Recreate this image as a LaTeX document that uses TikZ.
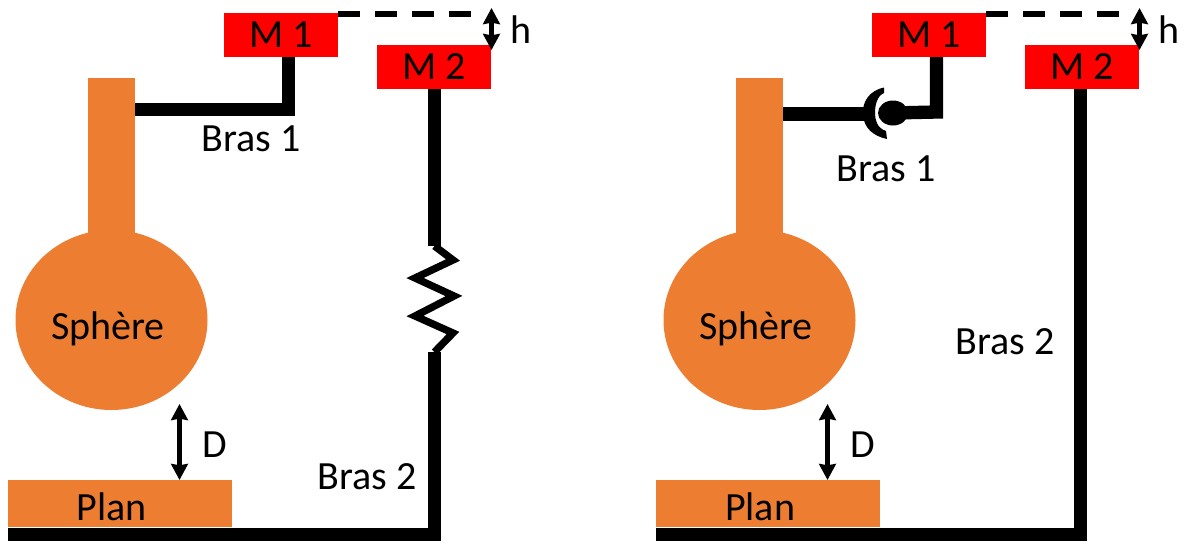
\documentclass[tikz,border=0pt]{standalone}
\usepackage{fontspec}
\setmainfont{Carlito}
\usetikzlibrary{arrows.meta,shapes.geometric}
\definecolor{orangeA}{HTML}{ED7D31}
\tikzset{
  x=0.75pt,y=-0.75pt,
  lbl/.style={inner sep=0pt,font=\fontsize{30}{34}\selectfont,text=black},
  mass/.style={fill=red,draw=none,minimum width=85.5pt,minimum height=33pt,inner sep=0pt,font=\fontsize{30}{34}\selectfont},
  orangebox/.style={fill=orangeA,draw=none,inner sep=0pt},
  ball/.style={orangebox,ellipse,minimum width=144pt,minimum height=135pt},
  arm/.style={draw=black,line width=10pt,line join=miter},
  spring/.style={draw=black,line width=5.5pt,line join=miter},
  dim/.style={draw=black,line width=3.6pt,{Stealth[length=12pt,width=12.5pt,inset=1pt]}-{Stealth[length=12pt,width=12.5pt,inset=1pt]}},
  guide/.style={draw=black,line width=3.9pt,dash pattern=on 16.5pt off 11.25pt}
}
\begin{document}
\begin{tikzpicture}
\useasboundingbox (0,0) rectangle (1184,543);
% ---------- left panel
\node[orangebox,minimum width=35.25pt,minimum height=120pt] (rodL) at (111.5,158) {};
\node[ball] (sphL) at (111.5,320) {};
\node[lbl] (tsL) at (108,329) {Sphère};
\node[orangebox,minimum width=168pt,minimum height=35.25pt] (planL) at (120,503.5) {};
\node[lbl] (tpL) at (112,507) {Plan};
\node[mass] (m1L) at (281,35) {\raisebox{-1.5pt}{M 1}};
\node[mass] (m2L) at (434,67) {\raisebox{-2pt}{M 2}};
\coordinate (a1L) at (288.5,57);
\coordinate (b1L) at (288.5,109.5);
\coordinate (c1L) at (135,109.5);
\draw[arm] (a1L) -- (b1L) -- (c1L);
\coordinate (g0L) at (434.5,89);
\coordinate (s0L) at (434.5,246);
\coordinate (s1L) at (434.5,352);
\coordinate (f0L) at (434.5,534.5);
\coordinate (f1L) at (8,534.5);
\draw[arm] (g0L) -- (s0L);
\draw[arm] (s1L) -- (f0L) -- (f1L);
\draw[spring] (s0L) -- (453,260) -- (415,278) -- (454,296) -- (415,316) -- (453,333) -- (s1L);
\coordinate (d0L) at (338,14);
\coordinate (d1L) at (472,14);
\draw[guide] (d0L) -- (d1L);
\coordinate (h0L) at (491.5,8);
\coordinate (h1L) at (491.5,50);
\draw[dim] (h0L) -- (h1L);
\coordinate (k0L) at (179.5,404);
\coordinate (k1L) at (179.5,480);
\draw[dim] (k0L) -- (k1L);
\node[lbl] (tdL) at (215,445) {D};
\node[lbl] (thL) at (521,30) {h};
\node[lbl] (t1L) at (251,139) {Bras 1};
\node[lbl] (t2L) at (367,477) {Bras 2};
% ---------- right panel
\node[orangebox,minimum width=35.25pt,minimum height=120pt] (rodR) at (759.5,158) {};
\node[ball] (sphR) at (759.5,320) {};
\node[lbl] (tsR) at (756,329) {Sphère};
\node[orangebox,minimum width=168pt,minimum height=35.25pt] (planR) at (768,503.5) {};
\node[lbl] (tpR) at (760,507) {Plan};
\node[mass] (m1R) at (929,35) {\raisebox{-1.5pt}{M 1}};
\node[mass] (m2R) at (1082,67) {\raisebox{-2pt}{M 2}};
\coordinate (a1R) at (936.5,57);
\coordinate (b1R) at (936.5,112);
\coordinate (c1R) at (893,113);
\draw[arm] (a1R) -- (b1R) -- (c1R);
\coordinate (e1R) at (783,114);
\coordinate (e2R) at (866,114);
\draw[arm] (e1R) -- (e2R);
\fill[black] (c1R) ellipse [x radius=15,y radius=12.5];
\fill[black] (884,87.5) .. controls (868,91) and (862,103) .. (863,115)
  .. controls (864,128) and (873,136) .. (887,139) -- (886,131)
  .. controls (877,128) and (875,120) .. (875,113)
  .. controls (875,105) and (877,96) .. (884,93) -- cycle;
\coordinate (g0R) at (1080.5,89);
\coordinate (f0R) at (1080.5,534.5);
\coordinate (f1R) at (656,534.5);
\draw[arm] (g0R) -- (f0R) -- (f1R);
\coordinate (d0R) at (986,14);
\coordinate (d1R) at (1120,14);
\draw[guide] (d0R) -- (d1R);
\coordinate (h0R) at (1139.5,8);
\coordinate (h1R) at (1139.5,50);
\draw[dim] (h0R) -- (h1R);
\coordinate (k0R) at (827.5,404);
\coordinate (k1R) at (827.5,480);
\draw[dim] (k0R) -- (k1R);
\node[lbl] (tdR) at (863,445) {D};
\node[lbl] (thR) at (1169,30) {h};
\node[lbl] (t1R) at (886,169) {Bras 1};
\node[lbl] (t2R) at (1005,342) {Bras 2};
\end{tikzpicture}
\end{document}
